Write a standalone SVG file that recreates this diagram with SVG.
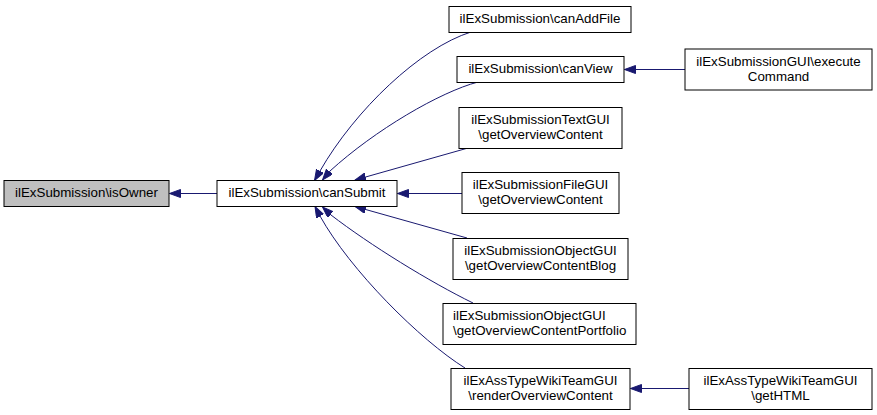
<svg xmlns="http://www.w3.org/2000/svg" width="877" height="415" viewBox="0 0 877 415">
<defs>
<style>
.box{fill:#ffffff;stroke:#000000;stroke-width:1}
.cur{fill:#bfbfbf;stroke:#000000;stroke-width:1}
text{font-family:"Liberation Sans",Arial,Helvetica,sans-serif;font-size:13.33px;fill:#000000}
.c{text-anchor:middle}
.edge{fill:none;stroke:#191970;stroke-width:1;marker-end:url(#ah)}
</style>
<marker id="ah" markerWidth="14" markerHeight="10" refX="11" refY="4" orient="auto" markerUnits="userSpaceOnUse">
<path d="M0,0 L11,4 L0,8 z" fill="#191970" stroke="#191970" stroke-width="1"/>
</marker>
</defs>
<rect width="877" height="415" fill="#ffffff"/>
<g id="connectors">
<path class="edge" d="M217,193.5 L169.5,193.5"/>
<path class="edge" d="M471,32 C420,48 355,110 320,171 L314.5,180.5"/>
<path class="edge" d="M478,82 C440,92 375,130 330,171 L322.5,180"/>
<path class="edge" d="M468,148 L355,180"/>
<path class="edge" d="M462,193.5 L397.5,193.5"/>
<path class="edge" d="M467,238 L355,206.5"/>
<path class="edge" d="M473,303 C430,282 370,245 331,215 L322.5,207"/>
<path class="edge" d="M465,368 C420,340 350,270 320,216 L315,206.5"/>
<path class="edge" d="M685,69.5 L624.5,69.5"/>
<path class="edge" d="M689,388.5 L630.5,388.5"/>
</g>
<g id="isOwner"><rect class="cur" x="4" y="180.5" width="165" height="26"/><text class="c" x="86.5" y="197.2">ilExSubmission\isOwner</text></g>
<g id="canSubmit"><rect class="box" x="217" y="180.5" width="180" height="26"/><text class="c" x="307" y="197.2">ilExSubmission\canSubmit</text></g>
<g id="canAddFile"><rect class="box" x="449" y="6.5" width="182" height="26"/><text class="c" x="540" y="23.2">ilExSubmission\canAddFile</text></g>
<g id="canView"><rect class="box" x="457" y="56.5" width="167" height="26"/><text class="c" x="540.5" y="73.2">ilExSubmission\canView</text></g>
<g id="textGUI"><rect class="box" x="459" y="107.5" width="163" height="41"/><text class="c" x="540.5" y="123.8">ilExSubmissionTextGUI</text><text class="c" x="540.5" y="138.8">\getOverviewContent</text></g>
<g id="fileGUI"><rect class="box" x="462" y="172.5" width="157" height="41"/><text class="c" x="540.5" y="188.8">ilExSubmissionFileGUI</text><text class="c" x="540.5" y="203.8">\getOverviewContent</text></g>
<g id="blog"><rect class="box" x="453" y="238.5" width="175" height="41"/><text class="c" x="540.5" y="254.8">ilExSubmissionObjectGUI</text><text class="c" x="540.5" y="269.8">\getOverviewContentBlog</text></g>
<g id="portfolio"><rect class="box" x="443" y="303.5" width="193" height="41"/><text x="453" y="319.8">ilExSubmissionObjectGUI</text><text x="453" y="334.8">\getOverviewContentPortfolio</text></g>
<g id="renderOverview"><rect class="box" x="451" y="368.5" width="179" height="41"/><text class="c" x="540.5" y="384.8">ilExAssTypeWikiTeamGUI</text><text class="c" x="540.5" y="399.8">\renderOverviewContent</text></g>
<g id="executeCommand"><rect class="box" x="685" y="49" width="187" height="41"/><text class="c" x="778.5" y="65.5">ilExSubmissionGUI\execute</text><text class="c" x="778.5" y="80.5">Command</text></g>
<g id="getHTML"><rect class="box" x="689" y="368.5" width="183" height="41"/><text class="c" x="780.5" y="384.8">ilExAssTypeWikiTeamGUI</text><text class="c" x="780.5" y="399.8">\getHTML</text></g>
</svg>
